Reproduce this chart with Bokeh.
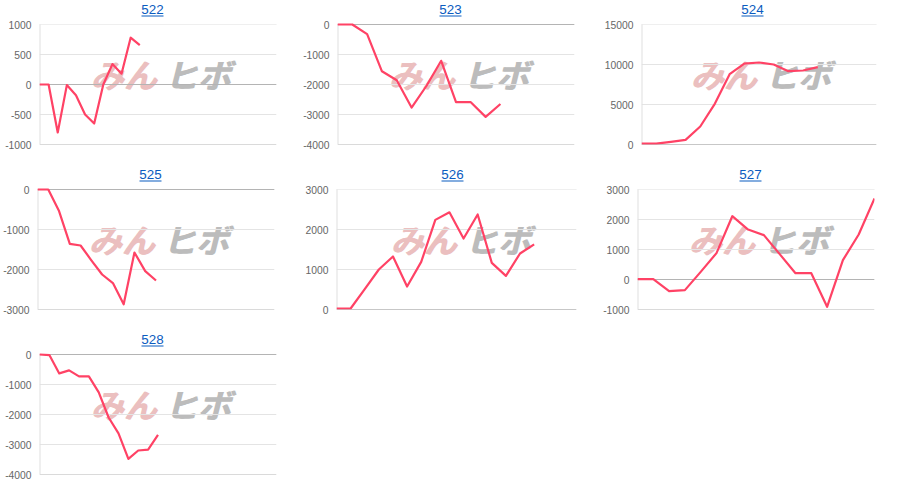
from bokeh.plotting import figure
from bokeh.layouts import column, row
from bokeh.models import Range1d, FixedTicker, Span, Label, BoxAnnotation
from bokeh.embed import file_html
from bokeh.resources import INLINE

vals_522 = [0, 0, -800, -10, -180, -500, -650, 0, 340, 180, 780, 655]
vals_523 = [0, 0, -320, -1560, -1860, -2770, -2050, -1210, -2590, -2590, -3080, -2650]
vals_524 = [120, 120, 330, 580, 2250, 5120, 8790, 10120, 10250, 10000, 9170, 9250, 9670]
vals_525 = [0, 0, -540, -1360, -1400, -1770, -2125, -2340, -2870, -1575, -2040, -2275]
vals_526 = [25, 25, 510, 1000, 1325, 575, 1190, 2240, 2430, 1775, 2375, 1165, 840, 1400, 1630]
vals_527 = [10, 10, -390, -355, 255, 880, 2110, 1665, 1480, 845, 210, 210, -910, 645, 1500, 2700]
vals_528 = [0, -20, -630, -530, -730, -730, -1265, -2100, -2630, -3480, -3200, -3170, -2680]

ticks_522 = [-1000, -500, 0, 500, 1000]
ticks_523 = [-4000, -3000, -2000, -1000, 0]
ticks_524 = [0, 5000, 10000, 15000]
ticks_525 = [-3000, -2000, -1000, 0]
ticks_526 = [0, 1000, 2000, 3000]
ticks_527 = [-1000, 0, 1000, 2000, 3000]
ticks_528 = [-4000, -3000, -2000, -1000, 0]

# x axis length of each chart (number of intervals, the line stops early on most)
span_522 = 26
span_523 = 16
span_524 = 16
span_525 = 22
span_526 = 17
span_527 = 15
span_528 = 24


def make_chart(name, vals, ticks, x_span, left, right, title_x, mark_x):
    # the frame runs up to the top of the figure so the title can live inside it
    y_end = ticks[-1] + (ticks[-1] - ticks[0]) * 24 / 120
    p = figure(width=300, height=165, output_backend="svg", toolbar_location=None, tools="",
               x_range=Range1d(0, x_span), y_range=Range1d(ticks[0], y_end),
               min_border_left=left, min_border_right=right, min_border_top=0, min_border_bottom=21,
               outline_line_color=None)
    p.xaxis.visible = False
    p.grid.visible = False
    p.yaxis.ticker = FixedTicker(ticks=ticks)
    p.yaxis.major_label_overrides = {t: str(t) for t in ticks}
    p.yaxis.axis_line_color = None
    p.yaxis.major_tick_line_color = None
    p.yaxis.minor_tick_line_color = None
    p.yaxis.major_tick_out = 0
    p.yaxis.major_label_standoff = 8
    p.yaxis.major_label_text_font = "Liberation Sans"
    p.yaxis.major_label_text_font_size = "10.3px"
    p.yaxis.major_label_text_color = "#666666"

    # watermark sits under the grid lines and the line, drawn twice to get its heavy look
    for dx in [0, 1]:
        p.add_layout(Label(x=mark_x - 5 + dx, y=71, x_units="screen", y_units="screen", text="みん",
                           text_font="Noto Sans CJK JP", text_font_size="33px", text_font_style="bold italic",
                           text_color="#ebbfbf", text_baseline="alphabetic", level="underlay"))
        p.add_layout(Label(x=mark_x + 69 + dx, y=71, x_units="screen", y_units="screen", text="ヒボ",
                           text_font="Noto Sans CJK JP", text_font_size="33px", text_font_style="bold italic",
                           text_color="#bcbcbc", text_baseline="alphabetic", level="underlay"))

    for t in ticks:
        p.add_layout(Span(location=t, dimension="width", line_color="#e4e4e4", line_width=1, level="underlay"))
    if ticks[-1] != 0:
        p.add_layout(Span(location=ticks[-1], dimension="width", line_color="#efefef", line_width=1, level="underlay"))
    p.add_layout(Span(location=ticks[0], dimension="width", line_color="#c4c4c4", line_width=1, level="underlay"))
    p.add_layout(Span(location=0, dimension="width", line_color="#b4b4b4", line_width=1, level="underlay"))
    p.segment(x0=[0], y0=[ticks[0]], x1=[0], y1=[ticks[-1]], line_color="#e0e0e0", line_width=2)

    p.line(list(range(len(vals))), vals, line_color="#ff4265", line_width=2.2, line_join="round")

    # linked title with its underline
    p.add_layout(Label(x=title_x, y=135, x_units="screen", y_units="screen", text=name,
                       text_font="Liberation Sans", text_font_size="13.4px", text_color="#0b5cc0",
                       text_align="center", text_baseline="alphabetic"))
    p.add_layout(BoxAnnotation(left=title_x - 11, right=title_x + 11, bottom=128, top=129,
                               left_units="screen", right_units="screen", top_units="screen", bottom_units="screen",
                               fill_color="#0b5cc0", fill_alpha=1, line_color=None))
    return p


p1 = make_chart("522", vals_522, ticks_522, span_522, 39, 24, 113, 56)
p2 = make_chart("523", vals_523, ticks_523, span_523, 37, 26, 113, 56)
p3 = make_chart("524", vals_524, ticks_524, span_524, 41, 24, 111, 54)
p4 = make_chart("525", vals_525, ticks_525, span_525, 37, 26, 113, 56)
p5 = make_chart("526", vals_526, ticks_526, span_526, 36, 24, 116, 59)
p6 = make_chart("527", vals_527, ticks_527, span_527, 37, 26, 113, 56)
p7 = make_chart("528", vals_528, ticks_528, span_528, 39, 24, 113, 56)

layout = column(row(p1, p2, p3, spacing=0), row(p4, p5, p6, spacing=0), row(p7, spacing=0), spacing=0)
open("out.html", "w").write(file_html(layout, INLINE))
